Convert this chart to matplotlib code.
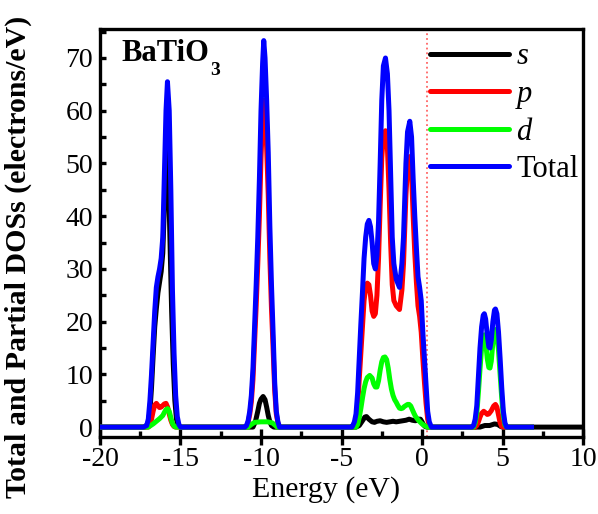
import numpy as np
import matplotlib
matplotlib.use('Agg')
import matplotlib.pyplot as plt
from matplotlib.ticker import MultipleLocator

plt.rcParams['font.family'] = ['Liberation Serif', 'DejaVu Serif']
plt.rcParams['axes.unicode_minus'] = False

s_energy = [-20, -17.2, -17.0, -16.9, -16.8, -16.7, -16.6, -16.5, -16.4, -16.3, -16.2, -16.1,
            -16.0, -15.9, -15.85, -15.75, -15.65, -15.55, -15.45, -15.35, -15.25, -15.15, -15.0,
            -10.5, -10.35, -10.2, -10.1, -10.0, -9.87, -9.75, -9.65, -9.55, -9.45, -9.35, -9.2,
            -4.1, -3.9, -3.7, -3.55, -3.45, -3.3, -3.1, -2.95, -2.8, -2.6, -2.4, -2.2, -2.0,
            -1.8, -1.6, -1.4, -1.2, -1.0, -0.8, -0.6, -0.4, -0.2, -0.1, 0.0, 0.1, 0.2, 0.3,
            3.6, 3.9, 4.2, 4.5, 4.7, 4.9, 5.0, 10]
s_dos = [0, 0, 0.8, 3, 7.5, 13.5, 19, 22.5, 25.5, 27.5, 29.5, 33,
         42, 54, 55, 48, 35, 22, 12, 5, 1.5, 0.3, 0,
         0, 1, 3, 4.5, 5.3, 5.8, 5.2, 3.8, 2.2, 1.0, 0.3, 0,
         0, 0.3, 1.2, 1.9, 2.0, 1.5, 1.0, 0.9, 1.1, 1.2, 1.0, 0.9, 1.0,
         1.1, 1.0, 1.1, 1.2, 1.3, 1.5, 1.3, 1.2, 1.5, 1.5, 1.0, 0.4, 0.1, 0,
         0, 0.3, 0.3, 0.6, 0.5, 0.1, 0, 0]

p_energy = [-20, -17.0, -16.9, -16.8, -16.7, -16.6, -16.5, -16.4, -16.3, -16.2, -16.1, -16.0,
            -15.9, -15.8, -15.7, -15.6, -15.5, -15.4, -15.3,
            -11.0, -10.9, -10.8, -10.7, -10.6, -10.5, -10.4, -10.3, -10.2, -10.1, -10.0, -9.9,
            -9.81, -9.75, -9.65, -9.55, -9.45, -9.35, -9.25, -9.15, -9.05, -8.95, -8.85,
            -4.3, -4.2, -4.1, -4.0, -3.9, -3.8, -3.7, -3.6, -3.5, -3.4, -3.3, -3.2, -3.1, -3.0,
            -2.9, -2.8, -2.7, -2.6, -2.5, -2.4, -2.27, -2.15, -2.05, -1.95, -1.85, -1.75, -1.6,
            -1.4, -1.25, -1.15, -1.0, -0.9, -0.76, -0.65, -0.55, -0.45, -0.35, -0.25, -0.15,
            -0.05, 0.05, 0.15, 0.25, 0.35, 0.45, 0.55,
            3.3, 3.4, 3.5, 3.6, 3.7, 3.83, 3.95, 4.05, 4.15, 4.3, 4.45, 4.56, 4.65, 4.75, 4.85,
            4.95, 5.05, 6.8]
p_dos = [0, 0, 0.3, 1.5, 3, 4.2, 4.5, 4.1, 3.7, 3.8, 4.1, 4.4,
         4.5, 3.8, 2.5, 1.3, 0.5, 0.1, 0,
         0, 0.2, 0.9, 2.4, 4.8, 9, 16, 23, 31, 40, 51, 59,
         62, 60, 53, 44, 32, 22.5, 15, 7, 2.5, 0.8, 0,
         0, 0.5, 1.5, 4, 9, 14, 19, 24, 26.5, 27.3, 27, 25, 22, 21,
         21.5, 25, 32, 42, 51, 55.5, 56.2, 53, 45, 35, 27, 24, 23,
         22.3, 26, 31, 44, 49.5, 51.3, 48, 40, 33, 27.5, 23, 21,
         18, 13, 8.5, 4.5, 1.5, 0.3, 0,
         0, 0.3, 1.0, 1.9, 2.6, 3.0, 2.7, 2.4, 2.5, 3.1, 4.0, 4.3, 3.8, 2.3, 0.8,
         0.1, 0, 0]

d_energy = [-20, -17.0, -16.9, -16.7, -16.5, -16.3, -16.1, -16.0, -15.9, -15.8, -15.7, -15.6,
            -15.5, -15.4, -15.3,
            -10.8, -10.6, -10.4, -10.0, -9.6, -9.3, -9.1, -9.0,
            -4.1, -4.0, -3.9, -3.8, -3.7, -3.6, -3.5, -3.4, -3.25, -3.1, -3.0, -2.9, -2.8, -2.7,
            -2.6, -2.5, -2.4, -2.3, -2.2, -2.1, -2.0, -1.9, -1.8, -1.7, -1.6, -1.5, -1.4, -1.3,
            -1.2, -1.1, -1.0, -0.9, -0.8, -0.7, -0.6, -0.5, -0.4, -0.3, -0.2, -0.1, 0.0, 0.1,
            0.2, 0.3, 0.4,
            3.2, 3.3, 3.4, 3.5, 3.6, 3.7, 3.8, 3.87, 3.95, 4.05, 4.15, 4.22, 4.3, 4.4, 4.5, 4.56,
            4.65, 4.75, 4.85, 4.95, 5.05, 5.15, 5.25, 6.8]
d_dos = [0, 0, 0.2, 0.6, 1.1, 1.6, 2.2, 2.8, 3.3, 3.5, 3.0, 1.8,
         0.7, 0.2, 0,
         0, 0.5, 0.9, 1.0, 1.0, 0.8, 0.3, 0,
         0, 0.5, 1.8, 3.5, 5.5, 7.3, 8.6, 9.4, 9.8, 9.3, 8.2, 7.6, 7.6, 8.8,
         10.8, 12.4, 13.2, 13.3, 12.8, 11.2, 9.0, 7.2, 6.0, 5.2, 4.7, 4.1, 3.6, 3.5,
         3.6, 3.9, 4.1, 4.3, 4.3, 4.0, 3.3, 2.6, 2.0, 1.6, 1.2, 0.9, 0.6, 0.4,
         0.2, 0.05, 0,
         0, 0.8, 2.5, 6.5, 11, 15, 17.2, 17.5, 16.2, 13, 11.3, 11.2, 12.5, 16, 18.2, 18.5,
         17.5, 14.5, 10, 5.5, 2, 0.4, 0, 0]

total_energy = [-20, -17.3, -17.1, -17.0, -16.9, -16.8, -16.7, -16.6, -16.5, -16.4, -16.3,
                -16.2, -16.1, -16.0, -15.9, -15.81, -15.7, -15.6, -15.5, -15.4, -15.3, -15.2,
                -15.1, -15.0,
                -11.0, -10.9, -10.8, -10.7, -10.6, -10.5, -10.4, -10.3, -10.2, -10.1, -10.0,
                -9.9, -9.83, -9.75, -9.65, -9.55, -9.45, -9.35, -9.25, -9.15, -9.05, -8.95, -8.85,
                -4.35, -4.3, -4.2, -4.1, -4.0, -3.9, -3.8, -3.7, -3.6, -3.5, -3.4, -3.3, -3.2,
                -3.1, -3.0, -2.9, -2.8, -2.7, -2.6, -2.5, -2.4, -2.27, -2.15, -2.05, -1.95,
                -1.85, -1.75, -1.6, -1.4, -1.25, -1.15, -1.0, -0.9, -0.76, -0.65, -0.55, -0.45,
                -0.35, -0.25, -0.15, -0.05, 0.05, 0.15, 0.25, 0.35, 0.45, 0.58,
                3.1, 3.2, 3.3, 3.4, 3.5, 3.6, 3.7, 3.8, 3.87, 3.95, 4.05, 4.15, 4.22, 4.3, 4.4,
                4.5, 4.56, 4.65, 4.75, 4.85, 4.95, 5.05, 5.15, 5.25, 6.8]
total_dos = [0, 0, 0.3, 1.5, 5, 10, 16, 22, 26.5, 28.5, 30,
             32, 36, 48, 60, 65.5, 60, 45, 26, 14, 6, 2,
             0.5, 0,
             0, 0.3, 1.2, 3, 6, 11, 19, 27, 36, 47, 60,
             69, 73.3, 70, 62, 52, 38, 27, 18, 8.5, 3, 1, 0,
             0, 0.3, 1, 2.5, 6.5, 13, 19.5, 25.5, 32, 36, 38.5, 39.2, 38,
             35, 31, 30, 32.5, 39, 50, 62, 68.5, 70, 67, 60, 48,
             36, 31, 28, 26.5, 31, 36, 50, 56, 58, 55, 47, 40,
             34, 28.5, 26.5, 24, 18, 13, 8, 3, 1, 0,
             0, 0.3, 1.5, 4, 9.5, 15, 19, 21.2, 21.5, 20.5, 17.5, 15.2, 15, 16.5, 20,
             22.2, 22.4, 21.5, 18, 13, 7.5, 3, 0.8, 0, 0]

fermi_level = 0.3

fig = plt.figure(figsize=(5.98, 5.14), dpi=100)
ax = fig.add_axes([0.1672, 0.1506, 0.8078, 0.793])

lw = 3.6
ax.axvline(fermi_level, color='#ff6666', ls=':', lw=1.3, zorder=1)
l_s, = ax.plot(s_energy, s_dos, color='black', lw=lw, solid_joinstyle='round', zorder=2)
l_p, = ax.plot(p_energy, p_dos, color='#ff0000', lw=lw, solid_joinstyle='round', zorder=3)
l_d, = ax.plot(d_energy, d_dos, color='#00ff00', lw=lw, solid_joinstyle='round', zorder=4)
l_t, = ax.plot(total_energy, total_dos, color='#0000ff', lw=lw, solid_joinstyle='round', zorder=5)

ax.set_xlim(-20, 10)
ax.set_ylim(-1.8, 75.5)
ax.xaxis.set_major_locator(MultipleLocator(5))
ax.xaxis.set_minor_locator(MultipleLocator(2.5))
ax.yaxis.set_major_locator(MultipleLocator(10))
ax.yaxis.set_minor_locator(MultipleLocator(5))
ax.tick_params(axis='x', which='major', direction='inout', length=11, width=2.4,
               labelsize=20, pad=2)
ax.tick_params(axis='x', which='minor', direction='in', length=4, width=2.4)
ax.tick_params(axis='y', which='both', direction='in', length=4, width=2.4,
               labelsize=20, pad=5)
for sp in ax.spines.values():
    sp.set_linewidth(2.4)

ax.set_xlabel('Energy (eV)', fontsize=21.5)
ax.xaxis.set_label_coords(0.468, -0.097)
ax.set_ylabel('Total and Partial DOSs (electrons/eV)', fontsize=21.5, fontweight='bold')
ax.yaxis.set_label_coords(-0.141, 0.44)

# formula label, subscript set as its own text
ax.text(0.045, 0.975, 'BaTiO', transform=ax.transAxes,
        fontsize=22, fontweight='bold', va='top', ha='left')
ax.text(0.229, 0.918, '3', transform=ax.transAxes,
        fontsize=14, fontweight='bold', va='top', ha='left')

leg = ax.legend([l_s, l_p, l_d, l_t], ['s', 'p', 'd', 'Total'], loc='upper left',
                bbox_to_anchor=(0.683, 0.967), frameon=False, fontsize=22,
                handlelength=2.6, handletextpad=0.23, labelspacing=0.28,
                borderpad=0, borderaxespad=0)
for t in leg.get_texts()[:3]:
    t.set_style('italic')
for h in leg.get_lines():
    h.set_solid_capstyle('round')

fig.savefig('out.png', dpi=100)
